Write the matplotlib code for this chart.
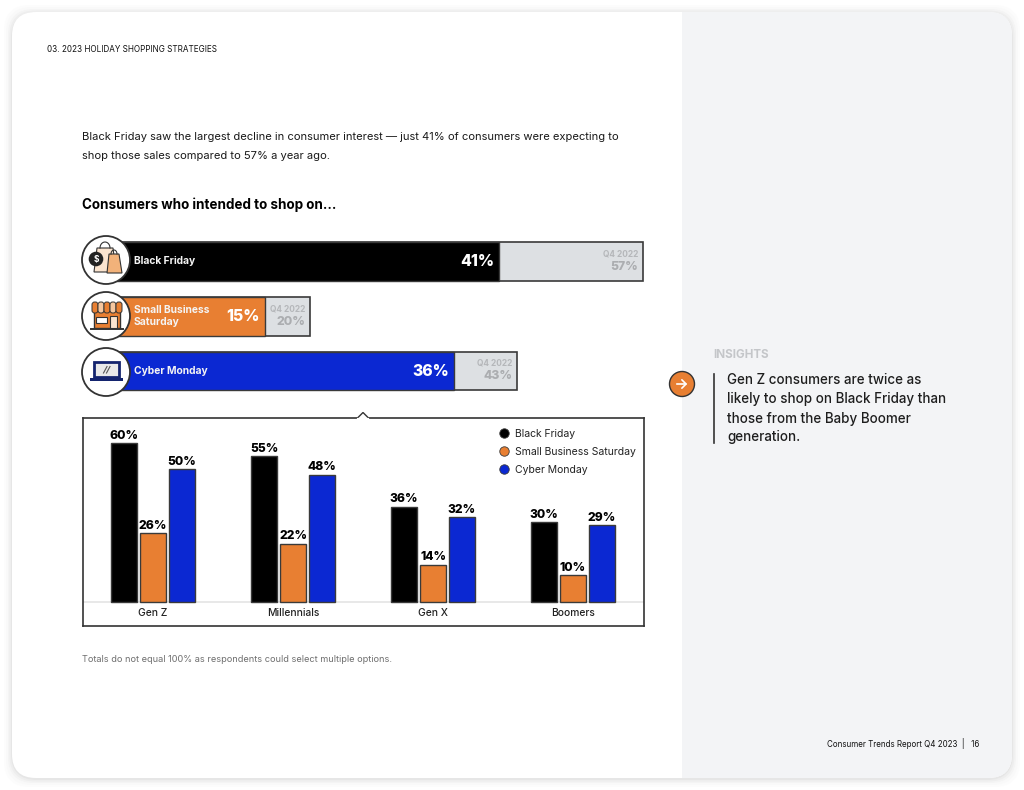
import matplotlib
matplotlib.use("Agg")
import matplotlib.pyplot as plt
import numpy as np
from matplotlib.lines import Line2D
from matplotlib.patches import Circle, FancyBboxPatch, Polygon, Rectangle

plt.rcParams["font.family"] = ["Inter", "DejaVu Sans"]

# data
channels = ["Black Friday", "Small Business\nSaturday", "Cyber Monday"]
q4_2023 = [41, 15, 36]
q4_2022 = [57, 20, 43]

generations = ["Gen Z", "Millennials", "Gen X", "Boomers"]
legend_names = ["Black Friday", "Small Business Saturday", "Cyber Monday"]
black_friday = [60, 55, 36, 30]
small_business = [26, 22, 14, 10]
cyber_monday = [50, 48, 32, 29]

BLACK = "#000000"
ORANGE = "#E87F32"
BLUE = "#0B28D2"
GREY = "#DDE0E3"
EDGE = "#3A3A3A"
W, H = 1024, 790


def px_axes(fig, left, top, right, bottom, zorder):
    return fig.add_axes([left / W, 1 - bottom / H, (right - left) / W, (bottom - top) / H], zorder=zorder)


fig = plt.figure(figsize=(W / 100, H / 100), dpi=100, facecolor="white")

# page, in pixels
page = fig.add_axes([0, 0, 1, 1], zorder=0)
page.set_xlim(0, W)
page.set_ylim(H, 0)
page.axis("off")
# soft shadow round the card
for grow, col in [(8, "#FCFCFC"), (6, "#F9F9F9"), (4, "#F4F4F4"), (2.5, "#EEEEEE"), (1, "#E6E6E6")]:
    page.add_patch(FancyBboxPatch((12 - grow, 12 - grow + 1), 1000 + 2 * grow, 766 + 2 * grow,
                                  boxstyle="round,pad=0,rounding_size=26", fc=col, ec="none"))
card = FancyBboxPatch((12, 12), 1000, 766, boxstyle="round,pad=0,rounding_size=24", fc="white", ec="none")
page.add_patch(card)
side = Rectangle((682, 12), 330, 766, fc="#F3F4F6", ec="none")
page.add_patch(side)
side.set_clip_path(card)

page.text(47, 49.5, "03. 2023 HOLIDAY SHOPPING STRATEGIES", fontsize=5.85, color="#111111", va="center")
page.text(82, 137.5, "Black Friday saw the largest decline in consumer interest — just 41% of consumers were expecting to",
          fontsize=8.05, color="#1A1A1A", va="center")
page.text(82, 156, "shop those sales compared to 57% a year ago.", fontsize=8.05, color="#1A1A1A", va="center")
page.text(82, 205, "Consumers who intended to shop on...", fontsize=9.67, fontweight="bold", color="black", va="center")
page.text(82, 659, "Totals do not equal 100% as respondents could select multiple options.", fontsize=6.6,
          color="#6E6E6E", va="center")
page.text(979, 743.5, "Consumer Trends Report Q4 2023  |   16", fontsize=5.75, color="#111111", va="center", ha="right")

# insights panel
page.text(713, 354.5, "INSIGHTS", fontsize=8.4, fontweight="bold", color="#C4C6C9", va="center")
page.plot([714, 714], [374, 443], color="#333333", lw=1.2)
insight = ["Gen Z consumers are twice as", "likely to shop on Black Friday than",
           "those from the Baby Boomer", "generation."]
for i, line in enumerate(insight):
    page.text(727, 380.5 + i * 19, line, fontsize=9.65, fontweight="medium", color="#1E1E1E", va="center")
page.add_patch(Circle((682, 384), 12.5, fc=ORANGE, ec="#333333", lw=1))
page.annotate("", xy=(690, 384), xytext=(674, 384),
              arrowprops=dict(arrowstyle="->,head_length=0.3,head_width=0.3", color="white", lw=1.2))

# top bars, x0 sits behind the round icons
top = px_axes(fig, 130, 235, 643, 396, 2)
top.set_xlim(0, 57)
top.set_ylim(2.457, -0.484)
top.axis("off")
y_pos = np.arange(len(channels))
fills = [BLACK, ORANGE, BLUE]
stub = 1.4
top.barh(y_pos, np.array(q4_2022) + stub, left=-stub, height=0.71, color=GREY, edgecolor=EDGE, linewidth=1.2, clip_on=False)
top.barh(y_pos, np.array(q4_2023) + stub, left=-stub, height=0.71, color=fills, edgecolor=EDGE, linewidth=1.0, clip_on=False)
for y, name, now, prev in zip(y_pos, channels, q4_2023, q4_2022):
    top.annotate(name, (0, y), xytext=(4, 0), textcoords="offset pixels", fontsize=7.4, fontweight="bold",
                 color="#F4F4F4", va="center", linespacing=1.25)
    top.annotate(f"{now}%", (now, y), xytext=(-5, -0.5), textcoords="offset pixels", fontsize=11.3, fontweight="heavy",
                 color="white", va="center", ha="right")
    top.annotate("Q4 2022", (prev, y), xytext=(-5, 7.5), textcoords="offset pixels", fontsize=6, fontweight="bold",
                 color="#B5B7BA", va="center", ha="right")
    top.annotate(f"{prev}%", (prev, y), xytext=(-5, -5.5), textcoords="offset pixels", fontsize=8.8, fontweight="heavy",
                 color="#ABADB0", va="center", ha="right")

# generation chart
chart = px_axes(fig, 83, 418, 644, 626, 2)
chart.set_xlim(-0.5, 3.507)
chart.set_ylim(-9.06, 69.4)
x = np.arange(len(generations))
bar_w = 0.186
step = 0.207
for off, vals, col in zip([-step, 0, step], [black_friday, small_business, cyber_monday], fills):
    bars = chart.bar(x + off, vals, bar_w, color=col, edgecolor=EDGE, linewidth=1.0, zorder=3)
    chart.bar_label(bars, labels=[f"{v}%" for v in vals], padding=1, fontsize=8.7, fontweight="heavy", color="black")
chart.axhline(0, color="#E4E4E4", lw=1.2, zorder=2)
chart.set_xticks(x, generations, fontsize=7.4, fontweight="medium", color="#222222")
chart.tick_params(axis="x", length=0, pad=-13)
chart.set_yticks([])
for s in chart.spines.values():
    s.set_color("#333333")
    s.set_linewidth(1.2)
handles = [Line2D([], [], marker="o", ls="", ms=6.8, mfc=c, mec=EDGE, mew=0.6) for c in fills]
chart.legend(handles, legend_names, loc="upper right", bbox_to_anchor=(0.998, 0.982), frameon=False, fontsize=7.5,
             labelspacing=0.76, handletextpad=0.0, borderpad=0.2, labelcolor="#222222")

# icons and notch, above the bars
over = fig.add_axes([0, 0, 1, 1], zorder=3)
over.set_xlim(0, W)
over.set_ylim(H, 0)
over.axis("off")
over.patch.set_alpha(0)

over.add_patch(Polygon([[357, 418.5], [363, 412.5], [369, 418.5]], fc="white", ec="#333333", lw=1, closed=False))
over.plot([358, 368], [418.6, 418.6], color="white", lw=1.6)

for cy in [260, 316, 372]:
    over.add_patch(Circle((106, cy), 24, fc="white", ec="#333333", lw=1.3))

# shopping bags
over.add_patch(Polygon([[97, 248], [113, 248], [116, 272], [94, 272]], fc="#FBE4CF", ec="#333333", lw=0.8))
over.add_patch(Polygon([[109, 254], [119, 254], [122, 273], [107, 273]], fc="#F2B27A", ec="#333333", lw=0.8))
over.add_patch(Circle((96, 259), 7.3, fc="#222222", ec="none"))
over.text(96, 259.3, "$", color="white", fontsize=6, fontweight="bold", ha="center", va="center")
t = np.linspace(np.pi, 2 * np.pi, 20)
over.plot(105 + 5 * np.cos(t), 248 + 6 * np.sin(t), color="#333333", lw=0.8)
over.plot(114 + 3 * np.cos(t), 254 + 4 * np.sin(t), color="#333333", lw=0.8)

# storefront
over.add_patch(Rectangle((94, 311), 26, 17, fc=ORANGE, ec="#333333", lw=1))
over.add_patch(Rectangle((95.5, 317), 11.5, 6, fc="white", ec="#333333", lw=0.8))
over.add_patch(Rectangle((110, 316), 7, 12, fc="#FBE4CF", ec="#333333", lw=0.8))
for i in range(5):
    col = ORANGE if i % 2 == 0 else "#F6C79F"
    over.add_patch(FancyBboxPatch((92 + i * 6, 302), 6, 11, boxstyle="round,pad=0,rounding_size=2.6",
                                  fc=col, ec="#333333", lw=0.7))
over.plot([91, 123], [328.5, 328.5], color="#333333", lw=1.4)

# laptop
over.add_patch(Rectangle((94, 362), 25, 15, fc="#E9E9E9", ec="#14246E", lw=2))
over.add_patch(Rectangle((90, 377.5), 33, 3, fc="#14246E", ec="none"))
over.plot([103.5, 107], [373, 366.5], color="#555555", lw=0.8)
over.plot([106.5, 110], [373, 366.5], color="#555555", lw=0.8)

fig.savefig("out.png", dpi=100, facecolor=fig.get_facecolor())
